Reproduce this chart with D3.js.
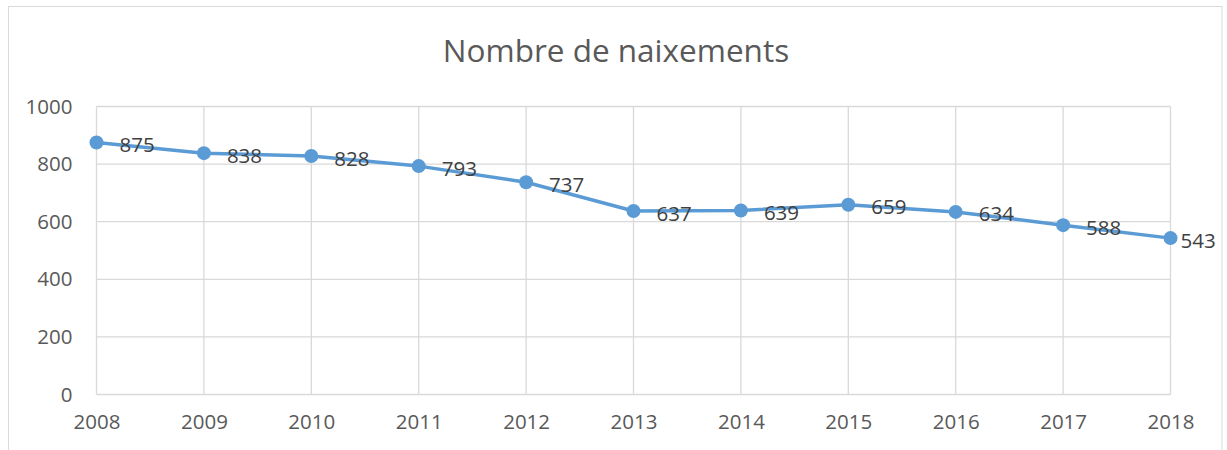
<!DOCTYPE html>
<html><head><meta charset="utf-8">
<script src="https://cdn.jsdelivr.net/npm/d3@7"></script>
<style>body{margin:0;background:#fff;} svg{display:block;}</style>
</head><body>
<svg id="c" width="1227" height="450"></svg>
<script>
const years = [2008,2009,2010,2011,2012,2013,2014,2015,2016,2017,2018];
const births = [875,838,828,793,737,637,639,659,634,588,543];
const yTicks = [0,200,400,600,800,1000];
const title = "Nombre de naixements";

const svg = d3.select("#c");
const font = "'Open Sans', 'Noto Sans', sans-serif";
svg.append("rect").attr("x",8.5).attr("y",6.5).attr("width",1213.5).attr("height",460)
  .attr("fill","#fff").attr("stroke","#d9d9d9").attr("stroke-width",1);

const x = d3.scalePoint().domain(years).range([96.5,1170.5]);
const y = d3.scaleLinear().domain([0,1000]).range([394.5,106.5]);

svg.append("text").attr("x",616).attr("y",62).attr("text-anchor","middle")
  .attr("font-family",font).attr("font-size",31.5).attr("fill","#595959").text(title);

const g = svg.append("g");
g.selectAll(".hg").data(yTicks).join("line")
  .attr("x1",x(2008)).attr("x2",x(2018)).attr("y1",d=>y(d)).attr("y2",d=>y(d))
  .attr("stroke","#d9d9d9").attr("stroke-width",1.3);
g.selectAll(".vg").data(years).join("line")
  .attr("x1",d=>x(d)).attr("x2",d=>x(d)).attr("y1",y(1000)).attr("y2",y(0))
  .attr("stroke","#d9d9d9").attr("stroke-width",1.3);

const yAxis = d3.axisLeft(y).tickValues(yTicks).tickSize(0).tickPadding(24).tickFormat(d3.format("d"));
const ya = svg.append("g").attr("transform",`translate(${x(2008)},0)`).call(yAxis);
ya.select(".domain").remove();
ya.selectAll("text").attr("font-family",font).attr("font-size",20.5).attr("fill","#595959");

const xAxis = d3.axisBottom(x).tickSize(0).tickPadding(20).tickFormat(d3.format("d"));
const xa = svg.append("g").attr("transform",`translate(0,${y(0)})`).call(xAxis);
xa.select(".domain").remove();
xa.selectAll("text").attr("font-family",font).attr("font-size",20.5).attr("fill","#595959");

const data = years.map((yr,i)=>({yr, v: births[i]}));
svg.append("path").datum(data)
  .attr("d", d3.line().x(d=>x(d.yr)).y(d=>y(d.v)))
  .attr("fill","none").attr("stroke","#5b9bd5").attr("stroke-width",3.5).attr("stroke-linejoin","round");
svg.selectAll(".pt").data(data).join("circle")
  .attr("cx",d=>x(d.yr)).attr("cy",d=>y(d.v)).attr("r",7).attr("fill","#5b9bd5");

svg.selectAll(".lbl").data(data).join("text")
  .attr("font-family",font).attr("font-size",20.5).attr("fill","#404040")
  .attr("dy","0.37em")
  .attr("y",d=>y(d.v)+2)
  .text(d=>d.v)
  .each(function(d){
    const w = this.getComputedTextLength();
    let lx = x(d.yr)+23;
    if (lx + w > 1217) lx = x(d.yr)+10;
    d3.select(this).attr("x",lx);
  });
</script>
</body></html>
